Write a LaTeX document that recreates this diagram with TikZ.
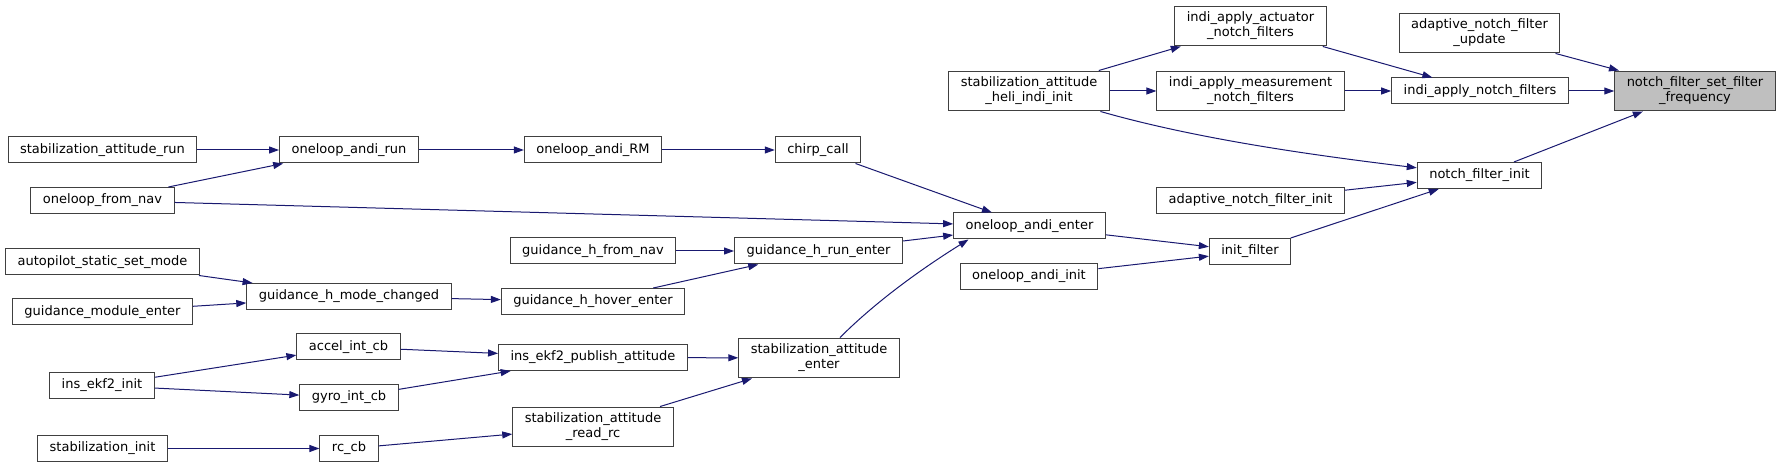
\documentclass[tikz,border=0pt]{standalone}
\usepackage{fontspec}
\setmainfont{DejaVu Sans}
\usepackage{tikz}
\usetikzlibrary{arrows.meta}
\definecolor{azul}{RGB}{25,25,112}
\definecolor{borde}{RGB}{64,64,64}
\definecolor{gris}{RGB}{191,191,191}

\begin{document}
\begin{tikzpicture}[x=1bp, y=-1bp, >={Triangle[length=10bp,width=7bp]},
  fn/.style={draw=borde, line width=1bp, inner xsep=12bp, inner ysep=6bp,
    minimum height=26bp, align=center, font=\fontsize{13bp}{15bp}\selectfont},
  call/.style={->, azul, line width=1bp}]
  \useasboundingbox (0,0) rectangle (1780,467);
  \node[fn] (sar) at (102.5,150) {stabilization\_attitude\_run};
  \node[fn] (ofn) at (102.5,200.5) {oneloop\_from\_nav};
  \node[fn] (assm) at (102.5,262) {autopilot\_static\_set\_mode};
  \node[fn] (gme) at (102.5,312) {guidance\_module\_enter};
  \node[fn] (iei) at (102,385.5) {ins\_ekf2\_init};
  \node[fn] (sinit) at (102.5,448.5) {stabilization\_init};
  \node[fn] (oar) at (349,150) {oneloop\_andi\_run};
  \node[fn] (ghmc) at (349,296.5) {guidance\_h\_mode\_changed};
  \node[fn] (aic) at (348.5,347) {accel\_int\_cb};
  \node[fn] (gic) at (349,397.5) {gyro\_int\_cb};
  \node[fn] (rcb) at (349,448.5) {rc\_cb};
  \node[fn] (oarm) at (593,150) {oneloop\_andi\_RM};
  \node[fn] (ghfn) at (593,251) {guidance\_h\_from\_nav};
  \node[fn] (ghhe) at (593,301.5) {guidance\_h\_hover\_enter};
  \node[fn] (iepa) at (593,357.5) {ins\_ekf2\_publish\_attitude};
  \node[fn] (sarr) at (593,427) {stabilization\_attitude\\\_read\_rc};
  \node[fn] (chirp) at (818,150) {chirp\_call};
  \node[fn] (ghre) at (818.5,251) {guidance\_h\_run\_enter};
  \node[fn] (sae) at (819,358) {stabilization\_attitude\\\_enter};
  \node[fn] (ane) at (1029.5,226) {oneloop\_andi\_enter};
  \node[fn] (oai) at (1029,276.5) {oneloop\_andi\_init};
  \node[fn] (heli) at (1029,91) {stabilization\_attitude\\\_heli\_indi\_init};
  \node[fn] (actu) at (1250.5,26) {indi\_apply\_actuator\\\_notch\_filters};
  \node[fn] (meas) at (1250.5,91) {indi\_apply\_measurement\\\_notch\_filters};
  \node[fn] (anfi) at (1250.5,200.5) {adaptive\_notch\_filter\_init};
  \node[fn] (initf) at (1250,251.5) {init\_filter};
  \node[fn] (inf) at (1480,91) {indi\_apply\_notch\_filters};
  \node[fn] (anfu) at (1479.5,33) {adaptive\_notch\_filter\\\_update};
  \node[fn] (nfi) at (1479.5,175.5) {notch\_filter\_init};
  \node[fn, fill=gris] (nffs) at (1695,91) {notch\_filter\_set\_filter\\\_frequency};
  \draw[call] (sar) -- (oar);
  \draw[call] (ofn) -- (oar);
  \draw[call] (ofn) -- (ane);
  \draw[call] (oar) -- (oarm);
  \draw[call] (oarm) -- (chirp);
  \draw[call] (chirp) -- (ane);
  \draw[call] (assm) -- (ghmc);
  \draw[call] (gme) -- (ghmc);
  \draw[call] (ghmc) -- (ghhe);
  \draw[call] (ghfn) -- (ghre);
  \draw[call] (ghhe) -- (ghre);
  \draw[call] (ghre) -- (ane);
  \draw[call] (iei) -- (aic);
  \draw[call] (iei) -- (gic);
  \draw[call] (aic) -- (iepa);
  \draw[call] (gic) -- (iepa);
  \draw[call] (iepa) -- (sae);
  \draw[call] (sinit) -- (rcb);
  \draw[call] (rcb) -- (sarr);
  \draw[call] (sarr) -- (sae);
  \draw[call] ([xshift=21bp]sae.north) .. controls +(40,-40) and +(-40,25) .. ([xshift=-61bp]ane.south);
  \draw[call] (ane) -- (initf);
  \draw[call] (oai) -- (initf);
  \draw[call] (initf) -- (nfi);
  \draw[call] (anfi) -- (nfi);
  \draw[call] (heli) .. controls (1200,140) and (1320,156) .. (nfi);
  \draw[call] (heli) -- (actu);
  \draw[call] (heli) -- (meas);
  \draw[call] (actu) -- (inf);
  \draw[call] (meas) -- (inf);
  \draw[call] (inf) -- (nffs);
  \draw[call] (anfu) -- (nffs);
  \draw[call] (nfi) -- (nffs);
\end{tikzpicture}
\end{document}
